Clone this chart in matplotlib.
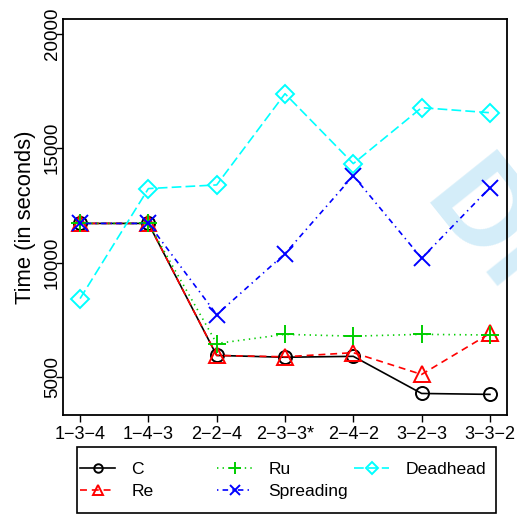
import numpy as np
import matplotlib
matplotlib.use('Agg')
import matplotlib.pyplot as plt
from matplotlib.patches import Rectangle

plt.rcParams['font.family'] = ['Liberation Sans', 'DejaVu Sans']
plt.rcParams['lines.scale_dashes'] = False

# data
configs = ['1\u22123\u22124', '1\u22124\u22123', '2\u22122\u22124', '2\u22123\u22123*',
           '2\u22124\u22122', '3\u22122\u22123', '3\u22123\u22122']
c_vals = [11720, 11720, 5960, 5880, 5920, 4300, 4260]
re_vals = [11720, 11720, 5960, 5900, 6080, 5130, 6920]
ru_vals = [11720, 11720, 6480, 6880, 6800, 6880, 6850]
spreading_vals = [11720, 11720, 7740, 10400, 13800, 10200, 13280]
deadhead_vals = [8440, 13240, 13400, 17380, 14330, 16770, 16550]

# name, values, colour, dash, marker, marker size
series = [
    ('C', c_vals, 'black', '-', 'o', 9.4),
    ('Re', re_vals, '#FF0000', (0, (5, 3.5)), '^', 11.5),
    ('Ru', ru_vals, '#00CD00', (0, (1, 3)), '+', 13),
    ('Spreading', spreading_vals, '#0000FF', (0, (1, 3, 4, 3)), 'x', 11),
    ('Deadhead', deadhead_vals, '#00FFFF', (0, (7, 3)), 'D', 9.2),
]

W, H = 517, 514
fig = plt.figure(figsize=(W / 100, H / 100), dpi=100)
ax = fig.add_axes([63/W, 1 - 415/H, 444/W, 396/H])
ax.set_facecolor('none')

x = np.arange(1, len(configs) + 1)
handles = []
for name, vals, col, ls, mk, ms in series:
    ln, = ax.plot(x, vals, color=col, linestyle=ls, linewidth=1.2, marker=mk,
                  markersize=ms, markerfacecolor='none', markeredgecolor=col,
                  markeredgewidth=1.4, label=name)
    handles.append(ln)

ax.set_xlim(0.75, 7.25)
ax.set_ylim(3360, 20640)
ax.set_xticks(x)
ax.set_xticklabels(configs, fontsize=13)
ax.set_yticks([5000, 10000, 15000, 20000])
ax.set_yticklabels(['5000', '10000', '15000', '20000'], fontsize=13.5,
                   rotation=90, va='center', ha='center')
ax.tick_params(axis='both', direction='out', length=5, width=1)
ax.tick_params(axis='x', pad=3)
ax.tick_params(axis='y', pad=2.5)
for sp in ax.spines.values():
    sp.set_linewidth(1.3)
ax.set_ylabel('Time (in seconds)', fontsize=15.8, labelpad=6)

# legend: box plus three equally wide columns (like R's legend)
fig.patches.append(Rectangle((77/W, 1 - 513/H), 419/W, 66/H,
                             transform=fig.transFigure, facecolor='white',
                             edgecolor='black', linewidth=1.2, zorder=1))
columns = [handles[0:2], handles[2:4], handles[4:5]]
col_x = [80, 217, 354]
for hs, cx in zip(columns, col_x):
    fig.legend(handles=hs, loc='upper left',
               bbox_to_anchor=(cx/W, 1 - 462/H), bbox_transform=fig.transFigure,
               fontsize=12.6, frameon=False, borderpad=0, borderaxespad=0,
               handlelength=2.0, handletextpad=0.95, labelspacing=0.36,
               markerscale=0.65)

# faint watermark on the right edge
fig.text(421/W, 1 - 202/H, 'DRAFT', fontsize=90, fontweight='bold',
         color='#d4edf9', rotation=-51.3, rotation_mode='anchor',
         ha='left', va='baseline', zorder=-1)

fig.savefig('out.png', dpi=100)
